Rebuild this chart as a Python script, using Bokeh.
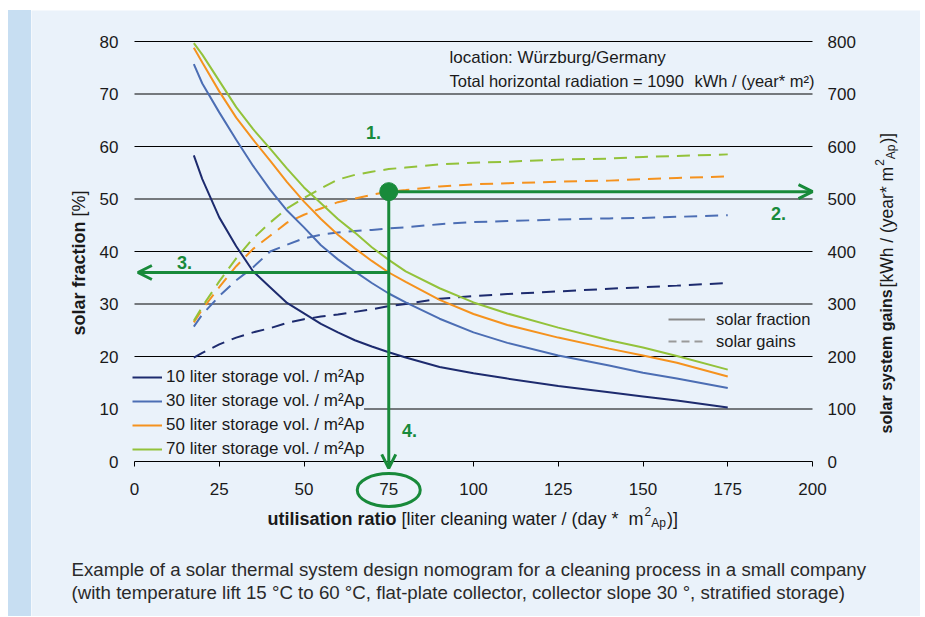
import math
from bokeh.plotting import figure
from bokeh.models import (Range1d, LinearAxis, FixedTicker, Label, Legend, LegendItem,
                          Arrow, OpenHead, Spacer)
from bokeh.layouts import row, column
from bokeh.embed import file_html
from bokeh.resources import INLINE

# ---------------- data ----------------
utilisation = [17.5, 20, 25, 30, 35, 40, 45, 50, 55, 60, 65, 70, 75, 80, 90, 100, 110, 125, 140, 150, 160, 175]

fraction_10 = [58.3, 53.8, 46.5, 41.0, 36.2, 33.2, 30.2, 28.2, 26.2, 24.6, 23.1, 21.9, 20.8, 19.8, 18.0, 16.8, 15.8, 14.4, 13.2, 12.4, 11.6, 10.3]
fraction_30 = [75.7, 72.0, 66.5, 61.3, 56.3, 51.8, 47.8, 44.6, 41.2, 38.5, 36.2, 34.0, 32.0, 30.3, 27.2, 24.6, 22.6, 20.2, 18.3, 16.9, 15.8, 14.0]
fraction_50 = [78.8, 76.0, 70.5, 65.5, 61.3, 57.3, 53.2, 49.5, 46.2, 43.2, 40.6, 38.2, 36.0, 34.2, 30.8, 28.1, 26.0, 23.6, 21.5, 20.2, 18.8, 16.2]
fraction_70 = [79.7, 77.5, 72.5, 67.5, 63.3, 59.6, 55.8, 52.2, 49.2, 46.2, 43.6, 40.8, 38.4, 36.2, 33.0, 30.3, 28.2, 25.5, 23.1, 21.7, 20.1, 17.5]

gains_10 = [198, 207, 223, 236, 246, 254, 264, 271, 276, 280, 285, 290, 296, 300, 310, 315, 319, 324, 329, 332, 335, 340]
gains_30 = [257, 280, 315, 345, 370, 400, 413, 425, 432, 436, 439, 441, 444, 446, 452, 456, 458, 461, 463, 464, 466, 469]
gains_50 = [265, 290, 332, 372, 405, 430, 455, 470, 482, 494, 501, 508, 514, 517, 524, 528, 530, 533, 535, 538, 540, 543]
gains_70 = [268, 295, 343, 387, 425, 455, 482, 502, 520, 537, 546, 552, 557, 560, 566, 569, 571, 575, 577, 580, 582, 585]

storage_labels = ["10 liter storage vol. / m²Ap", "30 liter storage vol. / m²Ap",
                  "50 liter storage vol. / m²Ap", "70 liter storage vol. / m²Ap"]
x_ticks = [0, 25, 50, 75, 100, 125, 150, 175, 200]
y_ticks = [0, 10, 20, 30, 40, 50, 60, 70, 80]
gain_ticks = [0, 100, 200, 300, 400, 500, 600, 700, 800]

# nomogram reading example
read_ratio = 75
read_gain = 514
read_fraction = 36
gain_arrow_end = 200
fraction_arrow_end = 1
ratio_arrow_end = -13

# ---------------- style ----------------
PANEL = "#EAF2FA"
STRIPE = "#C7DEF2"
INK = "#1a1a1a"
GRID = "#000000"
GREEN = "#188A3A"
FONT = "Liberation Sans"
C10, C30, C50, C70 = "#1D2B6E", "#4C6EB4", "#F5921E", "#93C23A"

# geometry (page pixels); the plot frame covers the whole figure
FIG_L, FIG_T = 31, 10
W, H = 889, 606
AX_L, AX_R, AX_T, ZERO_Y = 134, 812, 41, 461
SX = (AX_R - AX_L) / 200.0
SY = (ZERO_Y - AX_T) / 80.0


def xd(px):
    return (px - AX_L) / SX


def yd(py):
    return (ZERO_Y - py) / SY


REG = {' ': 278, '[': 278, ']': 278, '(': 333, ')': 333, '*': 389, '/': 278, '%': 889, '2': 556,
       'A': 667, 'W': 944, 'a': 556, 'c': 500, 'd': 556, 'e': 556, 'g': 556, 'h': 556, 'i': 222,
       'k': 500, 'l': 222, 'm': 833, 'n': 556, 'p': 556, 'r': 333, 's': 500, 't': 278, 'w': 722, 'y': 500}
BOLD = {' ': 278, 'a': 556, 'c': 556, 'e': 556, 'f': 333, 'g': 611, 'i': 278, 'l': 278, 'm': 889,
        'n': 611, 'o': 611, 'r': 389, 's': 556, 't': 333, 'u': 611, 'y': 556}


def tw(s, size, bold=False):
    t = BOLD if bold else REG
    return sum(t.get(ch, 556) for ch in s) * size / 1000.0


y0, y1 = yd(FIG_T + H), yd(FIG_T)
p = figure(width=W, height=H,
           x_range=Range1d(xd(FIG_L), xd(FIG_L + W)), y_range=Range1d(y0, y1),
           output_backend="svg", toolbar_location=None,
           min_border=0, min_border_left=0, min_border_right=0, min_border_top=0, min_border_bottom=0,
           background_fill_color=PANEL, border_fill_color=PANEL, outline_line_color=None)
p.extra_y_ranges = {"gains": Range1d(y0 * 10, y1 * 10)}

p.xgrid.visible = False
p.ygrid.visible = False

# horizontal grid lines between the first and last x tick
p.segment(x0=x_ticks[0], x1=x_ticks[-1], y0=y_ticks[1:], y1=y_ticks[1:], line_color=GRID, line_width=1.2)

# x axis
xa = p.xaxis[0]
xa.ticker = FixedTicker(ticks=x_ticks)
xa.fixed_location = 0
xa.bounds = (x_ticks[0], x_ticks[-1])
xa.axis_line_color = GRID
xa.axis_line_width = 1.2
xa.major_tick_line_color = GRID
xa.major_tick_out = 5
xa.major_tick_in = 0
xa.minor_tick_line_color = None
xa.major_label_standoff = 16
xa.major_label_text_font = FONT
xa.major_label_text_font_size = "17px"
xa.major_label_text_color = INK

# left axis
ya = p.yaxis[0]
ya.ticker = FixedTicker(ticks=y_ticks)
ya.fixed_location = x_ticks[0]
ya.bounds = (y_ticks[0], y_ticks[-1])
ya.axis_line_color = None
ya.major_tick_line_color = None
ya.minor_tick_line_color = None
ya.major_tick_out = 0
ya.major_tick_in = 0
ya.major_label_standoff = 16
ya.major_label_text_font = FONT
ya.major_label_text_font_size = "17px"
ya.major_label_text_color = INK

# right axis
ra = LinearAxis(y_range_name="gains", ticker=FixedTicker(ticks=gain_ticks),
                fixed_location=x_ticks[-1], bounds=(gain_ticks[0], gain_ticks[-1]),
                axis_line_color=None, major_tick_line_color=None, minor_tick_line_color=None,
                major_tick_out=0, major_tick_in=0, major_label_standoff=15,
                major_label_text_font=FONT, major_label_text_font_size="17px",
                major_label_text_color=INK)
p.add_layout(ra, "right")

DASH = "13 8"
fractions = [fraction_10, fraction_30, fraction_50, fraction_70]
gains = [gains_10, gains_30, gains_50, gains_70]
colors = [C10, C30, C50, C70]
solid = []
for ga, c in zip(gains, colors):
    p.line(utilisation, ga, y_range_name="gains", line_color=c, line_width=2, line_dash=DASH)
for fr, c in zip(fractions, colors):
    solid.append(p.line(utilisation, fr, line_color=c, line_width=2))

# key renderers for the line-style legend (not drawn)
g_solid = p.line(utilisation, fraction_10, line_color="#8a8a8a", line_width=2, visible=False)
g_dash = p.line(utilisation, fraction_10, line_color="#9a9a9a", line_width=2, line_dash="8 5", visible=False)

FB = FIG_T + H  # page y of frame bottom
leg1 = Legend(items=[LegendItem(label=l, renderers=[r]) for l, r in zip(storage_labels, solid)],
              location=(132 - FIG_L, FB - 459), padding=5, margin=0, spacing=4,
              glyph_width=30, glyph_height=20, label_height=20, label_standoff=4,
              label_text_font=FONT, label_text_font_size="17px", label_text_color=INK,
              background_fill_color=PANEL, background_fill_alpha=1, border_line_color=None)
p.add_layout(leg1)

leg2 = Legend(items=[LegendItem(label="solar fraction", renderers=[g_solid]),
                     LegendItem(label="solar gains", renderers=[g_dash])],
              location=(668 - FIG_L, FB - 351), padding=0, margin=0, spacing=2,
              glyph_width=37, glyph_height=20, label_height=20, label_standoff=11,
              label_text_font=FONT, label_text_font_size="16.5px", label_text_color=INK,
              background_fill_alpha=0, border_line_color=None,
              inactive_fill_alpha=0)
p.add_layout(leg2)

# nomogram reading
p.add_layout(Arrow(x_start=read_ratio, y_start=read_gain, x_end=gain_arrow_end, y_end=read_gain,
                   y_range_name="gains", line_color=GREEN, line_width=3,
                   end=OpenHead(size=14, line_color=GREEN, line_width=3)))
p.add_layout(Arrow(x_start=read_ratio, y_start=read_gain, x_end=read_ratio, y_end=ratio_arrow_end,
                   y_range_name="gains", line_color=GREEN, line_width=3,
                   end=OpenHead(size=14, line_color=GREEN, line_width=3)))
p.add_layout(Arrow(x_start=read_ratio, y_start=read_fraction, x_end=fraction_arrow_end, y_end=read_fraction,
                   line_color=GREEN, line_width=3,
                   end=OpenHead(size=14, line_color=GREEN, line_width=3)))
p.scatter([read_ratio], [read_gain], y_range_name="gains", size=18, color=GREEN)
p.ellipse(x=[read_ratio], y=[yd(489.5)], width=63, height=33, width_units="screen",
          height_units="screen", fill_color=None, line_color=GREEN, line_width=3)


def lab(x, y, text, size, bold=False, color=INK, angle=0.0, align="left", baseline="middle", font=FONT):
    p.add_layout(Label(x=x, y=y, text=text, text_font=font, text_font_size=f"{size}px",
                       text_font_style="bold" if bold else "normal", text_color=color,
                       angle=angle, text_align=align, text_baseline=baseline))


def runs_h(x_page, y_page, runs):
    cur = x_page
    for text, size, bold, shift, gap in runs:
        cur += gap
        lab(xd(cur), yd(y_page + shift), text, size, bold)
        cur += tw(text, size, bold)


def runs_v(x_page, y_page, runs):
    cur = y_page
    for text, size, bold, shift, gap in runs:
        cur -= gap
        lab(xd(x_page + shift), yd(cur), text, size, bold, angle=math.pi / 2)
        cur -= tw(text, size, bold)


sp18 = tw(" ", 18)
runs_h(267, 518, [("utilisation ratio", 18, True, 0, 0),
                  ("[liter cleaning water / (day *", 18, False, 0, sp18),
                  ("m", 18, False, 0, 2 * sp18),
                  ("2", 12, False, -7, 1),
                  ("Ap", 12, False, 4, 0),
                  (")]", 18, False, 0, 1)])
runs_v(78, 335, [("solar fraction", 18, True, 0, 0),
                 ("[%]", 18, False, 0, sp18)])
runs_v(886, 433, [("solar system gains", 16, True, 0, 0),
                  ("[kWh / (year* m", 17.5, False, 0, 2),
                  ("2", 12, False, -7, 1),
                  ("Ap", 12, False, 4, 0),
                  (")]", 17.5, False, 0, 1)])

lab(xd(449), yd(57), "location: Würzburg/Germany", 17)
t1 = "Total horizontal radiation = 1090"
lab(xd(449), yd(80), t1, 16.5)
lab(xd(449 + tw(t1 + "  ", 16.5)), yd(80), "kWh / (year* m²)", 16.5)

for txt, px, py in [("1.", 373, 132), ("2.", 778, 213), ("3.", 184, 262), ("4.", 409, 430)]:
    lab(xd(px), yd(py), txt, 18, bold=True, color=GREEN, align="center")

CAP = "#2a2a2a"
lab(xd(71), yd(569), "Example of a solar thermal system design nomogram for a cleaning process in a small company",
    18.7, color=CAP)
lab(xd(71), yd(592), "(with temperature lift 15 °C to 60 °C, flat-plate collector, collector slope 30 °, stratified storage)",
    18.7, color=CAP)

top_gap = Spacer(width=FIG_L + W, height=FIG_T)
left_gap = Spacer(width=8, height=H)
stripe = Spacer(width=FIG_L - 8, height=H, styles={"background-color": STRIPE})
layout = column(top_gap, row(left_gap, stripe, p))

open("out.html", "w").write(file_html(layout, INLINE))
